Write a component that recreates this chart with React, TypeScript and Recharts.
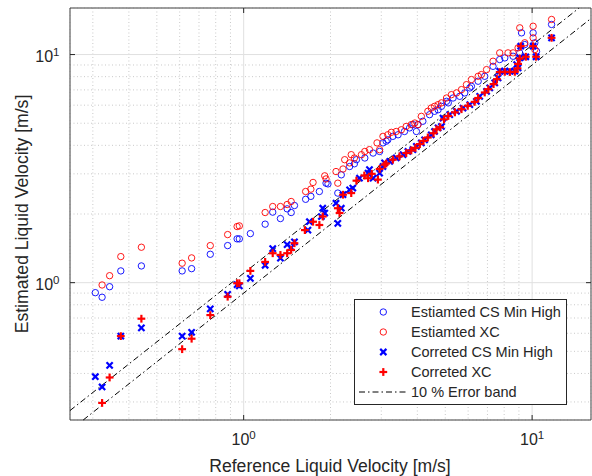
import { ScatterChart, Scatter, XAxis, YAxis, CartesianGrid, ReferenceLine, ReferenceArea, Legend } from 'recharts';

type Pt = { x: number; y: number };

// values (log-log, m/s)
const csEstimated: Pt[] = [
  { x: 0.306, y: 0.904 }, { x: 0.323, y: 0.863 }, { x: 0.343, y: 0.96 }, { x: 0.375, y: 1.126 },
  { x: 0.442, y: 1.184 }, { x: 0.612, y: 1.126 }, { x: 0.66, y: 1.152 }, { x: 0.766, y: 1.332 },
  { x: 0.88, y: 1.454 }, { x: 0.949, y: 1.556 }, { x: 0.966, y: 1.556 }, { x: 1.055, y: 1.641 },
  { x: 1.187, y: 1.805 }, { x: 1.261, y: 2.038 }, { x: 1.341, y: 1.91 }, { x: 1.415, y: 2.107 },
  { x: 1.461, y: 2.03 }, { x: 1.5, y: 2.179 }, { x: 1.64, y: 2.32 }, { x: 1.71, y: 2.39 },
  { x: 1.83, y: 2.51 }, { x: 1.93, y: 2.73 }, { x: 1.96, y: 2.71 }, { x: 2.12, y: 2.47 },
  { x: 2.18, y: 2.97 }, { x: 2.33, y: 3.23 }, { x: 2.42, y: 3.32 }, { x: 2.46, y: 3.46 },
  { x: 2.63, y: 3.52 }, { x: 2.81, y: 3.7 }, { x: 2.96, y: 3.76 }, { x: 3.04, y: 4.1 },
  { x: 3.12, y: 4.17 }, { x: 3.16, y: 4.23 }, { x: 3.29, y: 4.38 }, { x: 3.43, y: 4.45 },
  { x: 3.61, y: 4.6 }, { x: 3.76, y: 4.77 }, { x: 3.86, y: 4.93 }, { x: 3.97, y: 4.6 },
  { x: 4.02, y: 4.93 }, { x: 4.18, y: 5.1 }, { x: 4.41, y: 5.45 }, { x: 4.59, y: 5.64 },
  { x: 4.72, y: 5.73 }, { x: 4.85, y: 5.93 }, { x: 5.05, y: 6.24 }, { x: 5.12, y: 6.14 },
  { x: 5.32, y: 6.45 }, { x: 5.61, y: 6.56 }, { x: 5.84, y: 6.79 }, { x: 6.08, y: 7.14 },
  { x: 6.16, y: 7.26 }, { x: 6.5, y: 7.64 }, { x: 6.85, y: 8.03 }, { x: 7.32, y: 8.88 },
  { x: 7.72, y: 9.51 }, { x: 8.04, y: 9.67 }, { x: 8.59, y: 9.83 }, { x: 9.06, y: 10.17 },
  { x: 9.19, y: 12.45 }, { x: 9.43, y: 11.06 }, { x: 10.08, y: 12.45 }, { x: 10.22, y: 11.26 },
  { x: 10.36, y: 10.34 }, { x: 11.68, y: 13.55 },
];

const xcEstimated: Pt[] = [
  { x: 0.323, y: 0.977 }, { x: 0.343, y: 1.073 }, { x: 0.375, y: 1.301 }, { x: 0.442, y: 1.43 },
  { x: 0.612, y: 1.217 }, { x: 0.66, y: 1.284 }, { x: 0.766, y: 1.454 }, { x: 0.88, y: 1.625 },
  { x: 0.949, y: 1.762 }, { x: 0.966, y: 1.774 }, { x: 1.187, y: 2.03 }, { x: 1.261, y: 2.157 },
  { x: 1.341, y: 2.157 }, { x: 1.415, y: 2.201 }, { x: 1.461, y: 2.269 }, { x: 1.64, y: 2.51 },
  { x: 1.71, y: 2.57 }, { x: 1.74, y: 2.75 }, { x: 1.91, y: 2.94 }, { x: 1.93, y: 2.85 },
  { x: 2.09, y: 3.07 }, { x: 2.12, y: 2.73 }, { x: 2.21, y: 3.15 }, { x: 2.24, y: 3.46 },
  { x: 2.33, y: 3.35 }, { x: 2.36, y: 3.64 }, { x: 2.42, y: 3.52 }, { x: 2.56, y: 3.64 },
  { x: 2.63, y: 3.76 }, { x: 2.73, y: 3.83 }, { x: 2.9, y: 4.1 }, { x: 2.96, y: 3.83 },
  { x: 3.04, y: 4.38 }, { x: 3.16, y: 4.45 }, { x: 3.25, y: 4.56 }, { x: 3.38, y: 4.6 },
  { x: 3.52, y: 4.68 }, { x: 3.66, y: 4.84 }, { x: 3.81, y: 4.93 }, { x: 3.92, y: 5.01 },
  { x: 4.02, y: 4.93 }, { x: 4.13, y: 5.36 }, { x: 4.35, y: 5.64 }, { x: 4.47, y: 5.83 },
  { x: 4.59, y: 5.93 }, { x: 4.72, y: 6.03 }, { x: 4.85, y: 6.14 }, { x: 5.05, y: 6.45 },
  { x: 5.25, y: 6.67 }, { x: 5.47, y: 6.79 }, { x: 5.69, y: 7.02 }, { x: 5.92, y: 7.38 },
  { x: 6.16, y: 7.77 }, { x: 6.5, y: 8.03 }, { x: 6.67, y: 8.17 }, { x: 6.95, y: 8.59 },
  { x: 7.32, y: 9.35 }, { x: 7.72, y: 10.17 }, { x: 8.25, y: 10.17 }, { x: 8.59, y: 10.17 },
  { x: 8.94, y: 10.7 }, { x: 9.06, y: 13.1 }, { x: 9.43, y: 11.26 }, { x: 10.08, y: 13.31 },
  { x: 10.08, y: 11.84 }, { x: 10.22, y: 10.52 }, { x: 11.68, y: 14.25 },
];

const csCorrected: Pt[] = [
  { x: 0.306, y: 0.387 }, { x: 0.323, y: 0.349 }, { x: 0.343, y: 0.434 }, { x: 0.375, y: 0.583 },
  { x: 0.442, y: 0.634 }, { x: 0.612, y: 0.583 }, { x: 0.66, y: 0.606 }, { x: 0.766, y: 0.767 },
  { x: 0.88, y: 0.889 }, { x: 0.949, y: 0.98 }, { x: 0.966, y: 0.967 }, { x: 1.055, y: 1.045 },
  { x: 1.187, y: 1.192 }, { x: 1.261, y: 1.41 }, { x: 1.341, y: 1.28 }, { x: 1.415, y: 1.469 },
  { x: 1.461, y: 1.424 }, { x: 1.5, y: 1.509 }, { x: 1.67, y: 1.7 }, { x: 1.69, y: 1.85 },
  { x: 1.86, y: 1.95 }, { x: 1.88, y: 2.12 }, { x: 1.91, y: 2.02 }, { x: 2.09, y: 2.23 },
  { x: 2.12, y: 1.82 }, { x: 2.18, y: 2.12 }, { x: 2.21, y: 2.43 }, { x: 2.33, y: 2.55 },
  { x: 2.39, y: 2.6 }, { x: 2.52, y: 2.87 }, { x: 2.7, y: 3.02 }, { x: 2.73, y: 3.13 },
  { x: 2.81, y: 2.87 }, { x: 2.96, y: 3.02 }, { x: 3.04, y: 3.23 }, { x: 3.08, y: 3.35 },
  { x: 3.21, y: 3.4 }, { x: 3.38, y: 3.52 }, { x: 3.57, y: 3.64 }, { x: 3.71, y: 3.76 },
  { x: 3.86, y: 3.83 }, { x: 3.97, y: 3.96 }, { x: 4.13, y: 4.1 }, { x: 4.24, y: 4.23 },
  { x: 4.47, y: 4.45 }, { x: 4.59, y: 4.6 }, { x: 4.72, y: 4.77 }, { x: 4.85, y: 4.84 },
  { x: 4.91, y: 5.27 }, { x: 5.18, y: 5.45 }, { x: 5.47, y: 5.64 }, { x: 5.76, y: 5.83 },
  { x: 6.08, y: 6.03 }, { x: 6.41, y: 6.24 }, { x: 6.58, y: 6.56 }, { x: 6.95, y: 6.9 },
  { x: 7.13, y: 7.14 }, { x: 7.42, y: 7.51 }, { x: 7.62, y: 7.9 }, { x: 7.72, y: 8.45 },
  { x: 8.04, y: 8.45 }, { x: 8.37, y: 8.45 }, { x: 8.71, y: 8.45 }, { x: 8.84, y: 9.04 },
  { x: 8.94, y: 8.74 }, { x: 9.06, y: 9.67 }, { x: 9.13, y: 10.88 }, { x: 9.51, y: 9.78 },
  { x: 10.08, y: 10.88 }, { x: 10.32, y: 9.78 }, { x: 11.68, y: 11.84 },
];

const xcCorrected: Pt[] = [
  { x: 0.323, y: 0.297 }, { x: 0.343, y: 0.384 }, { x: 0.375, y: 0.583 }, { x: 0.442, y: 0.695 },
  { x: 0.612, y: 0.511 }, { x: 0.66, y: 0.568 }, { x: 0.766, y: 0.721 }, { x: 0.88, y: 0.868 },
  { x: 0.949, y: 0.994 }, { x: 0.966, y: 0.994 }, { x: 1.055, y: 1.126 }, { x: 1.187, y: 1.233 },
  { x: 1.261, y: 1.346 }, { x: 1.341, y: 1.323 }, { x: 1.415, y: 1.346 }, { x: 1.461, y: 1.392 },
  { x: 1.5, y: 1.489 }, { x: 1.63, y: 1.7 }, { x: 1.74, y: 1.85 }, { x: 1.83, y: 1.79 },
  { x: 1.88, y: 1.95 }, { x: 2.12, y: 2.12 }, { x: 2.15, y: 2.02 }, { x: 2.21, y: 2.43 },
  { x: 2.36, y: 2.47 }, { x: 2.46, y: 2.8 }, { x: 2.62, y: 2.95 }, { x: 2.7, y: 2.87 },
  { x: 2.78, y: 3.0 }, { x: 2.92, y: 2.83 }, { x: 2.96, y: 3.15 }, { x: 3.08, y: 3.29 },
  { x: 3.12, y: 3.33 }, { x: 3.29, y: 3.46 }, { x: 3.47, y: 3.58 }, { x: 3.66, y: 3.7 },
  { x: 3.81, y: 3.8 }, { x: 3.94, y: 3.9 }, { x: 4.08, y: 4.05 }, { x: 4.2, y: 4.18 },
  { x: 4.35, y: 4.33 }, { x: 4.55, y: 4.52 }, { x: 4.66, y: 4.7 }, { x: 4.8, y: 4.8 },
  { x: 4.95, y: 5.2 }, { x: 5.12, y: 5.38 }, { x: 5.4, y: 5.58 }, { x: 5.69, y: 5.76 },
  { x: 5.98, y: 5.96 }, { x: 6.32, y: 6.2 }, { x: 6.5, y: 6.45 }, { x: 6.85, y: 6.82 },
  { x: 7.05, y: 7.05 }, { x: 7.35, y: 7.42 }, { x: 7.55, y: 7.8 }, { x: 7.72, y: 8.38 },
  { x: 8.04, y: 8.4 }, { x: 8.37, y: 8.38 }, { x: 8.71, y: 8.4 }, { x: 8.9, y: 8.7 },
  { x: 8.94, y: 9.1 }, { x: 9.06, y: 9.6 }, { x: 9.13, y: 10.88 }, { x: 9.51, y: 9.78 },
  { x: 10.08, y: 10.88 }, { x: 10.32, y: 9.78 }, { x: 11.68, y: 11.84 },
];

const axisDomain: [number, number] = [0.25, 16];
const majorTicks = [1, 10];
const minorTicks = [0.3, 0.4, 0.5, 0.6, 0.7, 0.8, 0.9, 2, 3, 4, 5, 6, 7, 8, 9];
const bandFactors = [1.1, 0.9];

const BLUE = '#0000ff';
const RED = '#ff0000';
const INK = '#262626';
const FONT = '"Liberation Sans", Arial, Helvetica, sans-serif';

const PLOT_W = 521;
const PLOT_H = 412;

const legendItems = [
  { name: 'Estiamted CS Min High', kind: 'circle', color: BLUE },
  { name: 'Estiamted XC', kind: 'circle', color: RED },
  { name: 'Correted CS Min High', kind: 'cross', color: BLUE },
  { name: 'Correted XC', kind: 'plus', color: RED },
  { name: '10 % Error band', kind: 'line', color: '#000' },
];

function Marker({ kind, color, cx, cy }: { kind: string; color: string; cx: number; cy: number }) {
  if (kind === 'circle') {
    return <circle cx={cx} cy={cy} r={3.2} fill="none" stroke={color} strokeWidth={0.9} />;
  }
  if (kind === 'cross') {
    const s = 3.1;
    return (
      <g stroke={color} strokeWidth={2.2}>
        <line x1={cx - s} y1={cy - s} x2={cx + s} y2={cy + s} />
        <line x1={cx - s} y1={cy + s} x2={cx + s} y2={cy - s} />
      </g>
    );
  }
  if (kind === 'plus') {
    const s = 3.9;
    return (
      <g stroke={color} strokeWidth={2.2}>
        <line x1={cx - s} y1={cy} x2={cx + s} y2={cy} />
        <line x1={cx} y1={cy - s} x2={cx} y2={cy + s} />
      </g>
    );
  }
  return null;
}

const shapeOf = (kind: string, color: string) => (p: any) =>
  <Marker kind={kind} color={color} cx={p.cx} cy={p.cy} />;

function MajorXTick({ x, y, payload }: any) {
  return (
    <g>
      <line x1={x} y1={y} x2={x} y2={y - 5} stroke={INK} />
      <line x1={x} y1={y - PLOT_H} x2={x} y2={y - PLOT_H + 5} stroke={INK} />
      <text x={x} y={y + 25} textAnchor="middle" fill={INK} fontSize={16} fontFamily={FONT}>
        10<tspan dy={-6.5} fontSize={11.5}>{Math.round(Math.log10(payload.value))}</tspan>
      </text>
    </g>
  );
}

function MajorYTick({ x, y, payload }: any) {
  return (
    <g>
      <line x1={x} y1={y} x2={x + 5} y2={y} stroke={INK} />
      <line x1={x + PLOT_W} y1={y} x2={x + PLOT_W - 5} y2={y} stroke={INK} />
      <text x={x - 10.5} y={y + 7.5} textAnchor="end" fill={INK} fontSize={16} fontFamily={FONT}>
        10<tspan dy={-6.5} fontSize={11.5}>{Math.round(Math.log10(payload.value))}</tspan>
      </text>
    </g>
  );
}

// minor axes sit on top / right, ticks drawn inward on both sides
function MinorXTick({ x, y }: any) {
  return (
    <g stroke={INK}>
      <line x1={x} y1={y} x2={x} y2={y + 3} />
      <line x1={x} y1={y + PLOT_H} x2={x} y2={y + PLOT_H - 3} />
    </g>
  );
}

function MinorYTick({ x, y }: any) {
  return (
    <g stroke={INK}>
      <line x1={x} y1={y} x2={x - 3} y2={y} />
      <line x1={x - PLOT_W} y1={y} x2={x - PLOT_W + 3} y2={y} />
    </g>
  );
}

function ErrorLegend() {
  return (
    <div
      style={{
        width: 211,
        height: 102,
        border: `1px solid ${INK}`,
        background: '#fff',
        fontFamily: FONT,
        fontSize: 14.5,
        color: INK,
        paddingTop: 2,
        boxSizing: 'content-box',
      }}
    >
      {legendItems.map((it) => (
        <div key={it.name} style={{ display: 'flex', alignItems: 'center', height: 20, lineHeight: '20px' }}>
          <svg width={56} height={20} style={{ display: 'block' }}>
            {it.kind === 'line' ? (
              <line x1={4} y1={10} x2={51} y2={10} stroke={it.color} strokeDasharray="6 3 1.5 3" />
            ) : (
              <Marker kind={it.kind} color={it.color} cx={28.3} cy={10} />
            )}
          </svg>
          <span style={{ whiteSpace: 'nowrap' }}>{it.name}</span>
        </div>
      ))}
    </div>
  );
}

export default function App() {
  const [lo, hi] = axisDomain;
  return (
    <div style={{ position: 'absolute', left: 0, top: 0, width: 592, height: 476, background: '#fff' }}>
      <ScatterChart width={592} height={476} margin={{ top: 8, right: 1, bottom: 0, left: 0 }}>
        <CartesianGrid xAxisId="minor" yAxisId="minor" stroke="#c9c9c9" strokeDasharray="1 2.5" />
        <CartesianGrid stroke="#e0e0e0" />
        <XAxis
          xAxisId="minor"
          orientation="top"
          type="number"
          dataKey="x"
          scale="log"
          domain={axisDomain}
          allowDataOverflow
          ticks={minorTicks}
          interval={0}
          height={0}
          tickSize={0}
          tickMargin={0}
          tickLine={false}
          axisLine={false}
          tick={<MinorXTick />}
        />
        <XAxis
          type="number"
          dataKey="x"
          scale="log"
          domain={axisDomain}
          allowDataOverflow
          ticks={majorTicks}
          interval={0}
          height={56}
          tickSize={0}
          tickMargin={0}
          tickLine={false}
          axisLine={false}
          tick={<MajorXTick />}
          label={() => (
            <text x={330} y={472} textAnchor="middle" fill={INK} fontSize={17.6} fontFamily={FONT}>
              Reference Liquid Velocity [m/s]
            </text>
          )}
        />
        <YAxis
          yAxisId="minor"
          orientation="right"
          type="number"
          dataKey="y"
          scale="log"
          domain={axisDomain}
          allowDataOverflow
          ticks={minorTicks}
          interval={0}
          width={0}
          tickSize={0}
          tickMargin={0}
          tickLine={false}
          axisLine={false}
          tick={<MinorYTick />}
        />
        <YAxis
          type="number"
          dataKey="y"
          scale="log"
          domain={axisDomain}
          allowDataOverflow
          ticks={majorTicks}
          interval={0}
          width={70}
          tickSize={0}
          tickMargin={0}
          tickLine={false}
          axisLine={false}
          tick={<MajorYTick />}
          label={() => (
            <text
              x={28}
              y={214}
              transform="rotate(-90, 28, 214)"
              textAnchor="middle"
              fill={INK}
              fontSize={17.6}
              fontFamily={FONT}
            >
              Estimated Liquid Velocity [m/s]
            </text>
          )}
        />
        <Scatter data={csEstimated} shape={shapeOf('circle', BLUE)} isAnimationActive={false} />
        <Scatter data={xcEstimated} shape={shapeOf('circle', RED)} isAnimationActive={false} />
        <Scatter data={csCorrected} shape={shapeOf('cross', BLUE)} isAnimationActive={false} />
        <Scatter data={xcCorrected} shape={shapeOf('plus', RED)} isAnimationActive={false} />
        {bandFactors.map((k) => (
          <ReferenceLine
            key={k}
            segment={[
              { x: Math.max(lo, lo / k), y: Math.max(lo, lo / k) * k },
              { x: Math.min(hi, hi / k), y: Math.min(hi, hi / k) * k },
            ]}
            stroke="#000"
            strokeWidth={1}
            strokeDasharray="6 3 1.5 3"
            ifOverflow="visible"
          />
        ))}
        <ReferenceArea x1={lo} x2={hi} y1={lo} y2={hi} fill="none" stroke={INK} strokeOpacity={0.8} ifOverflow="visible" />
        <Legend
          layout="vertical"
          align="center"
          verticalAlign="middle"
          wrapperStyle={{ left: 354, top: 299, width: 213 }}
          content={() => <ErrorLegend />}
        />
      </ScatterChart>
    </div>
  );
}
